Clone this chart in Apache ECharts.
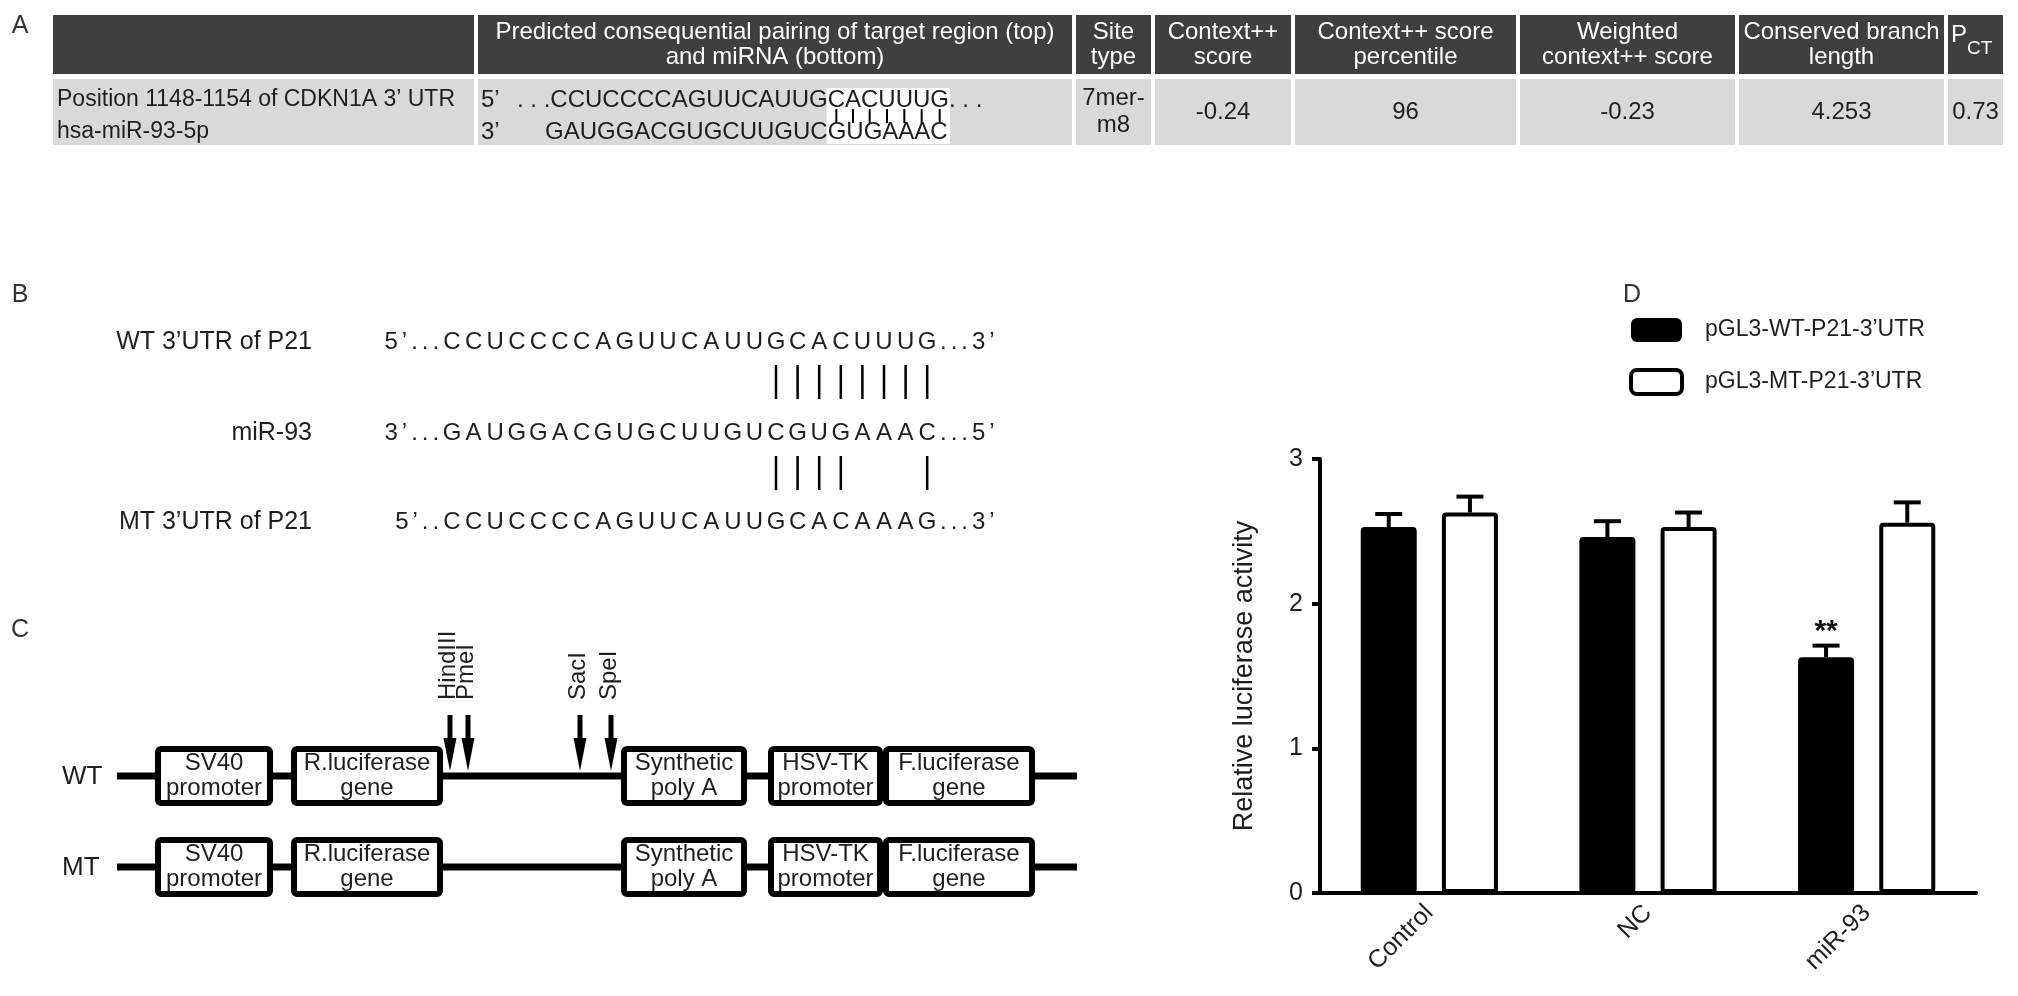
<!DOCTYPE html>
<html>
<head>
<meta charset="utf-8">
<title>miR-93 targets P21 3'UTR</title>
<script src="https://cdn.jsdelivr.net/npm/echarts/dist/echarts.min.js"></script>
<style>
  html, body { margin: 0; padding: 0; background: #fff; }
  #main { width: 2018px; height: 996px; }
</style>
</head>
<body>
<div id="main"></div>
<script>
const FONT = '"Liberation Sans", Arial, Helvetica, sans-serif'
const INK = '#1e1e1e'

// ---- panel D: luciferase assay ----
const groups = ['Control', 'NC', 'miR-93']
const wtMean = [2.53, 2.46, 1.63]
const wtErr = [0.09, 0.11, 0.08]
const mtMean = [2.63, 2.53, 2.56]
const mtErr = [0.11, 0.10, 0.14]
const sigMarks = ['', '', '**']
const seriesNames = ['pGL3-WT-P21-3’UTR', 'pGL3-MT-P21-3’UTR']
const yMin = 0
const yMax = 3
const yStep = 1

// ---- panel A: TargetScan table ----
const headCols = ['', 'Predicted consequential pairing of target region (top)\nand miRNA (bottom)', 'Site\ntype',
  'Context++\nscore', 'Context++ score\npercentile', 'Weighted\ncontext++ score', 'Conserved branch\nlength', '']
const rowValues = ['', '', '7mer-\nm8', '-0.24', '96', '-0.23', '4.253', '0.73']
const rowLabels = ['Position 1148-1154 of CDKN1A 3’ UTR', 'hsa-miR-93-5p']
const targetSeq = '. . .CCUCCCCAGUUCAUUGCACUUUG. . .'
const mirnaSeq = 'GAUGGACGUGCUUGUCGUGAAAC'
const seedMatch = 'CACUUUG'

// ---- panel B: sequences ----
const wtUtr = 'CCUCCCCAGUUCAUUGCACUUUG'
const mir93 = 'GAUGGACGUGCUUGUCGUGAAAC'
const mtUtr = 'CCUCCCCAGUUCAUUGCACAAAG'
const seedWindow = [15, 22]

// ---- panel C: vector map ----
const elements = [
  { text: 'SV40\npromoter', x0: 155, x1: 273 },
  { text: 'R.luciferase\ngene', x0: 291, x1: 443 },
  { text: 'Synthetic\npoly A', x0: 621, x1: 747 },
  { text: 'HSV-TK\npromoter', x0: 768, x1: 883 },
  { text: 'F.luciferase\ngene', x0: 883, x1: 1035 }
]
const cutSites = [
  { name: 'HindIII', x: 450 },
  { name: 'PmeI', x: 468 },
  { name: 'SacI', x: 580 },
  { name: 'SpeI', x: 611 }
]

const ctx = document.createElement('canvas').getContext('2d')
function textW(s, size) {
  ctx.font = size + 'px ' + FONT
  return ctx.measureText(s).width
}

const g = []
function txt(x, y, s, o) {
  o = o || {}
  g.push({
    type: 'text', x: x, y: y, rotation: o.rot || 0, silent: true, z: 10,
    style: {
      text: s, fill: o.fill || INK, fontSize: o.size || 24, fontFamily: FONT,
      fontWeight: o.weight || 'normal', align: o.align || 'left',
      verticalAlign: o.va || 'middle', lineHeight: o.lh || 25
    }
  })
}
function box(x, y, w, h, o) {
  o = o || {}
  g.push({
    type: 'rect', silent: true, z: o.z || 2,
    shape: { x: x, y: y, width: w, height: h, r: o.r || 0 },
    style: { fill: o.fill || 'none', stroke: o.stroke || null, lineWidth: o.lw || 0 }
  })
}
function seg(x1, y1, x2, y2, lw, z) {
  g.push({
    type: 'line', silent: true, z: z || 3,
    shape: { x1: x1, y1: y1, x2: x2, y2: y2 },
    style: { stroke: '#000', lineWidth: lw }
  })
}

// panel letters
txt(20, 26, 'A', { size: 25, align: 'center', fill: '#333' })
txt(20, 295, 'B', { size: 25, align: 'center', fill: '#333' })
txt(20, 630, 'C', { size: 25, align: 'center', fill: '#333' })
txt(1632, 295, 'D', { size: 25, align: 'center', fill: '#333' })

// ---- A ----
const tableCols = [[53, 474], [478, 1072], [1076, 1151], [1155, 1291], [1295, 1516], [1520, 1735], [1739, 1944], [1948, 2003]]
const headTop = 15, headH = 59, bodyTop = 79, bodyH = 66
const row1Y = 100, row2Y = 132
tableCols.forEach(function (c, i) {
  box(c[0], headTop, c[1] - c[0], headH, { fill: '#3f3f3f' })
  box(c[0], bodyTop, c[1] - c[0], bodyH, { fill: '#d9d9d9' })
  if (headCols[i]) txt((c[0] + c[1]) / 2, headTop + headH / 2, headCols[i], { fill: '#fff', align: 'center' })
  if (rowValues[i]) txt((c[0] + c[1]) / 2, bodyTop + bodyH / 2, rowValues[i], { align: 'center', lh: 27 })
})
// P subscript CT
txt(1951, 35, 'P', { fill: '#fff' })
txt(1967, 49, 'CT', { fill: '#fff', size: 19 })
txt(57, row1Y, rowLabels[0], { size: 23 })
txt(57, row2Y, rowLabels[1], { size: 23 })
txt(481, row1Y, '5’')
txt(481, row2Y, '3’')
const seqX = 517
const seedStart = targetSeq.indexOf(seedMatch, 18)
const hx = seqX + textW(targetSeq.slice(0, seedStart), 24)
const hw = textW(seedMatch, 24)
const mirX = hx - textW(mirnaSeq.slice(0, mirnaSeq.length - seedMatch.length), 24)
box(hx - 1, row1Y - 12, hw + 2, row2Y - row1Y + 24, { fill: '#fff', z: 3 })
txt(seqX, row1Y, targetSeq)
txt(mirX, row2Y, mirnaSeq)
for (let k = 0; k < seedMatch.length; k++) {
  const cx = hx + textW(seedMatch.slice(0, k), 24) + textW(seedMatch[k], 24) / 2
  seg(cx, row1Y + 9, cx, row2Y - 9, 2)
}

// ---- B ----
const pitch = 21.6
const x0 = 452
const pairsOf = { A: 'U', U: 'A', G: 'C', C: 'G' }
function spaced(s, x, y, alignRight) {
  let w = 0
  const ws = s.split('').map(function (ch) { const cw = textW(ch, 24); w += cw + 4; return cw })
  let cur = alignRight ? x - w + 4 : x
  s.split('').forEach(function (ch, i) { txt(cur, y, ch); cur += ws[i] + 4 })
}
const seqRows = [
  { label: 'WT 3’UTR of P21', pre: '5’...', seq: wtUtr, post: '...3’', y: 342 },
  { label: 'miR-93', pre: '3’...', seq: mir93, post: '...5’', y: 433 },
  { label: 'MT 3’UTR of P21', pre: '5’..', seq: mtUtr, post: '...3’', y: 522 }
]
seqRows.forEach(function (r) {
  txt(312, r.y, r.label, { align: 'right', size: 25 })
  spaced(r.pre, x0 - pitch / 2 - 2, r.y, true)
  r.seq.split('').forEach(function (ch, i) { txt(x0 + i * pitch, r.y, ch, { align: 'center' }) })
  spaced(r.post, x0 + (r.seq.length - 0.5) * pitch + 2, r.y, false)
})
function pairBars(a, b, yTop, yBot) {
  for (let i = seedWindow[0]; i <= seedWindow[1]; i++) {
    if (pairsOf[a[i]] === b[i]) seg(x0 + i * pitch, yTop, x0 + i * pitch, yBot, 2.5)
  }
}
pairBars(wtUtr, mir93, 365, 399)
pairBars(mtUtr, mir93, 456, 490)

// ---- C ----
const tracks = [{ label: 'WT', y: 776, cuts: true }, { label: 'MT', y: 867, cuts: false }]
tracks.forEach(function (t) {
  txt(62, t.y + 1, t.label, { size: 26 })
  seg(117, t.y, 1077, t.y, 7, 1)
  const top = t.y - 30
  elements.forEach(function (e) {
    box(e.x0 + 3, top + 3, e.x1 - e.x0 - 6, 54, { fill: '#fff', stroke: '#000', lw: 6, r: 3 })
    txt((e.x0 + e.x1) / 2, t.y, e.text, { align: 'center' })
  })
  if (t.cuts) {
    cutSites.forEach(function (c) {
      seg(c.x, 715, c.x, 742, 5, 4)
      g.push({ type: 'polygon', silent: true, z: 4, shape: { points: [[c.x - 6.5, 738], [c.x + 6.5, 738], [c.x, 771]] }, style: { fill: '#000' } })
      txt(c.x - 2, 700, c.name, { rot: Math.PI / 2 })
    })
  }
})

// ---- D ----
const BAR_W = 56
const BAR_GAP = 0.45
const CAP = 27
function errorSeries(means, errs, side, marks) {
  return {
    type: 'custom', z: 5, silent: true,
    data: means.map(function (m, i) { return [i, m, errs[i]] }),
    renderItem: function (params, api) {
      const i = api.value(0)
      const base = api.coord([i, api.value(1)])
      const tip = api.coord([i, api.value(1) + api.value(2)])
      const x = base[0] + side * BAR_W * (1 + BAR_GAP) / 2
      const children = [
        { type: 'line', shape: { x1: x, y1: base[1], x2: x, y2: tip[1] }, style: { stroke: '#000', lineWidth: 4 } },
        { type: 'line', shape: { x1: x - CAP / 2, y1: tip[1], x2: x + CAP / 2, y2: tip[1] }, style: { stroke: '#000', lineWidth: 4 } }
      ]
      if (marks && marks[i]) {
        children.push({ type: 'text', x: x, y: tip[1] - 14,
          style: { text: marks[i], fontSize: 30, fontWeight: 'bold', fontFamily: FONT, fill: '#111', align: 'center', verticalAlign: 'middle' } })
      }
      return { type: 'group', children: children }
    }
  }
}

const chart = echarts.init(document.getElementById('main'))
chart.setOption({
  animation: false,
  backgroundColor: '#fff',
  graphic: g,
  legend: {
    orient: 'vertical', left: 1629, top: 318, padding: 0,
    itemWidth: 51, itemHeight: 24, itemGap: 26, icon: 'roundRect', selectedMode: false,
    data: [
      { name: seriesNames[0], itemStyle: { color: '#000', borderWidth: 0 } },
      { name: seriesNames[1], itemStyle: { color: '#fff', borderColor: '#000', borderWidth: 4 } }
    ],
    textStyle: { fontSize: 23, lineHeight: 24, color: INK, fontFamily: FONT, padding: [0, 0, 0, 18] }
  },
  grid: { left: 1320, right: 42, top: 459, bottom: 103 },
  xAxis: {
    type: 'category', data: groups,
    axisLine: { lineStyle: { color: '#000', width: 4 } },
    axisTick: { alignWithLabel: true, length: 10, lineStyle: { color: '#000', width: 4 } },
    axisLabel: { rotate: 45, fontSize: 25, color: INK, fontFamily: FONT, margin: 16 }
  },
  yAxis: {
    type: 'value', min: yMin, max: yMax, interval: yStep,
    name: 'Relative luciferase activity', nameLocation: 'middle', nameGap: 62,
    nameTextStyle: { fontSize: 27, color: INK, fontFamily: FONT },
    axisLine: { show: true, lineStyle: { color: '#000', width: 4 } },
    axisTick: { show: true, length: 8, lineStyle: { color: '#000', width: 4 } },
    axisLabel: { fontSize: 25, color: INK, fontFamily: FONT, margin: 17 },
    splitLine: { show: false }
  },
  series: [
    { name: seriesNames[0], type: 'bar', data: wtMean, barWidth: BAR_W, barGap: (BAR_GAP * 100) + '%',
      itemStyle: { color: '#000', borderColor: '#000', borderWidth: 4, borderRadius: 2 } },
    { name: seriesNames[1], type: 'bar', data: mtMean, barWidth: BAR_W,
      itemStyle: { color: '#fff', borderColor: '#000', borderWidth: 4, borderRadius: 2 } },
    errorSeries(wtMean, wtErr, -1, sigMarks),
    errorSeries(mtMean, mtErr, 1, null)
  ]
})
</script>
</body>
</html>
